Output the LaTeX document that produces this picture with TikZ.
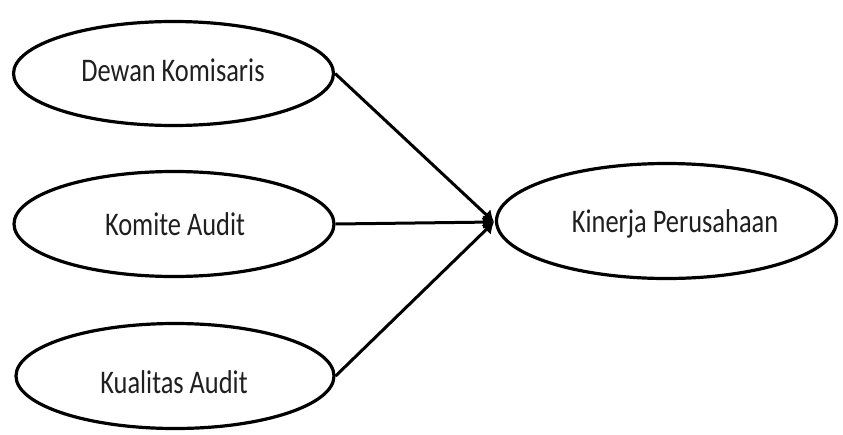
\documentclass[tikz,border=0pt]{standalone}
\usepackage{fontspec}
\setmainfont[FakeStretch=0.8]{Carlito}
\usetikzlibrary{shapes.geometric,arrows.meta}
\begin{document}
\begin{tikzpicture}[x=1pt,y=-1pt,
  oval/.style={draw=black,line width=3.2pt,ellipse,inner sep=0pt},
  lbl/.style={anchor=base,inner sep=0pt,font=\fontsize{33}{36}\selectfont,text=black!88},
  conn/.style={draw=black,line width=3pt,-{Latex[length=11pt,width=14pt]}}]
\useasboundingbox (0,0) rectangle (843,434);
\node[oval,minimum width=320pt,minimum height=104pt] (e1) at (173.5,73.5) {};
\node[oval,minimum width=320pt,minimum height=105pt] (e2) at (174,224) {};
\node[oval,minimum width=318pt,minimum height=105pt] (e3) at (175,376) {};
\node[oval,minimum width=340pt,minimum height=115pt] (e4) at (666.5,221) {};
\node[lbl] (t1) at (173,81) {Dewan Komisaris};
\node[lbl] (t2) at (175,235) {Komite Audit};
\node[lbl] (t3) at (174,393) {Kualitas Audit};
\node[lbl] (t4) at (675,232) {Kinerja Perusahaan};
\coordinate (tip) at (494,222);
\draw[conn] (e1.east) -- (tip);
\draw[conn] (e2.east) -- (tip);
\draw[conn] (e3.east) -- (tip);
\end{tikzpicture}
\end{document}
